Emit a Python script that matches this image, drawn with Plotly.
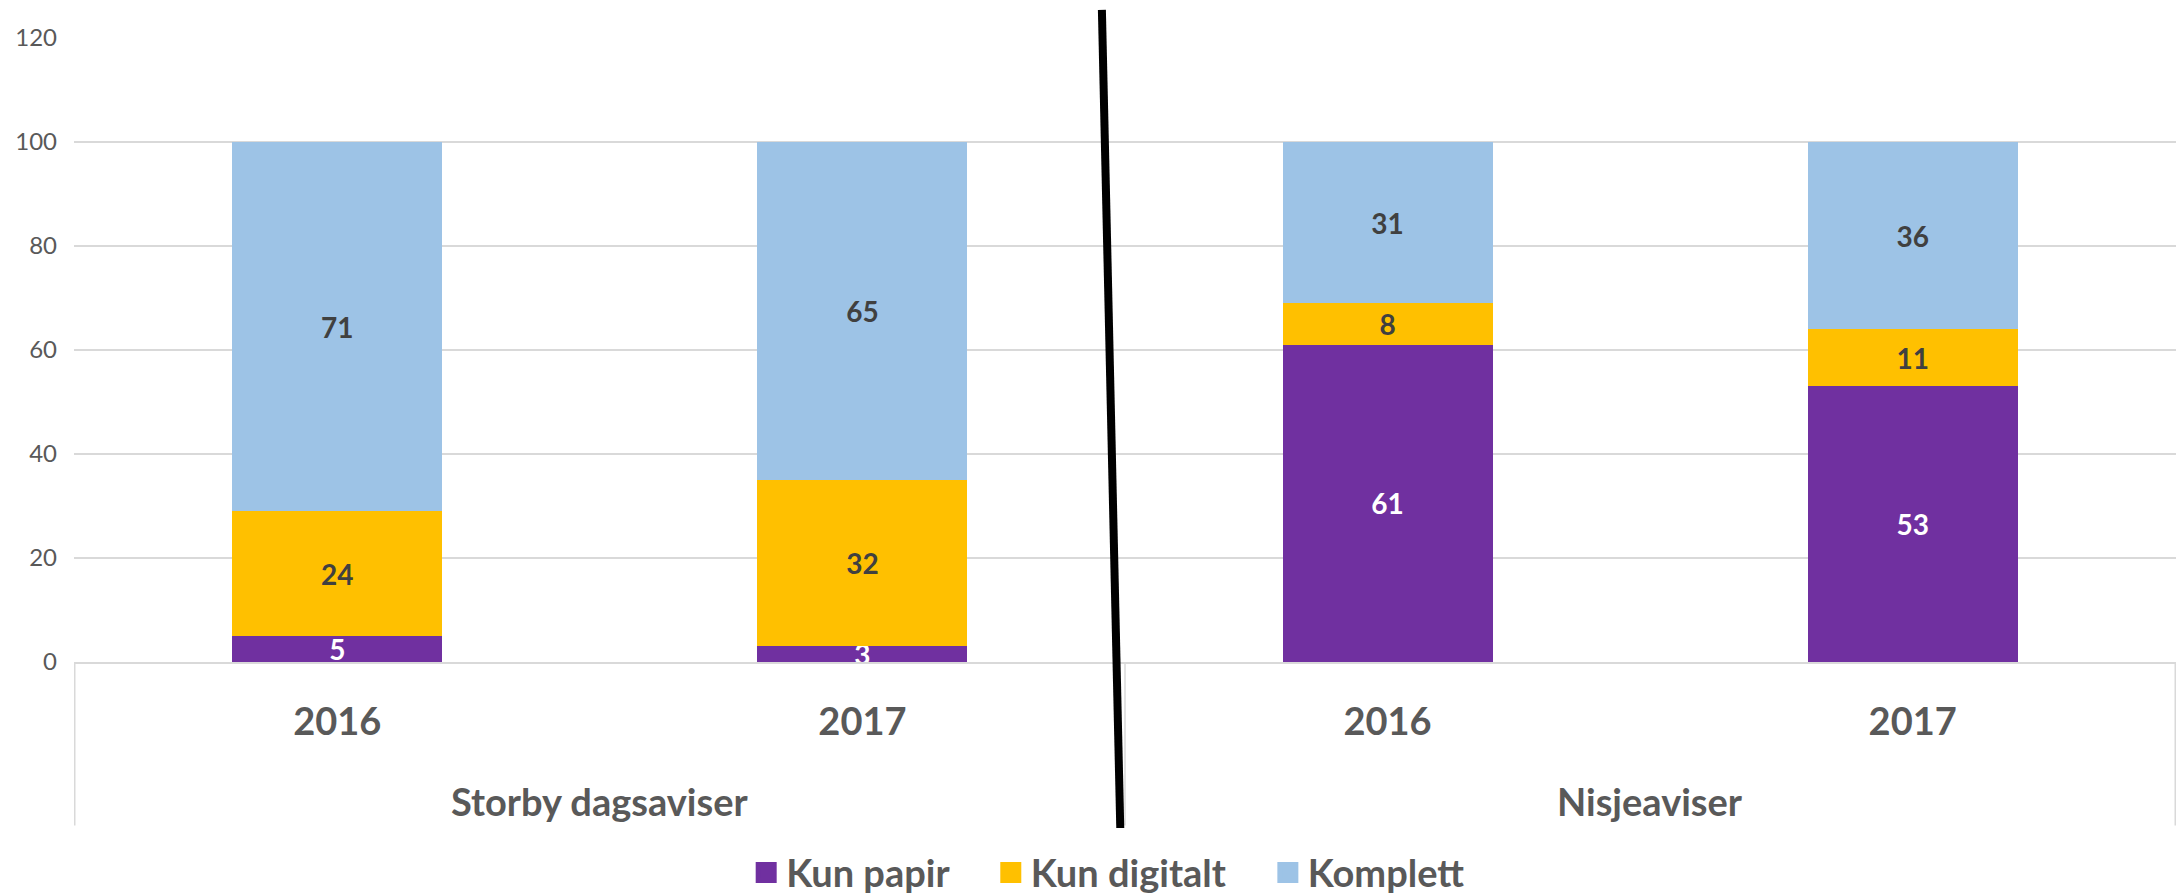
import plotly.graph_objects as go

groups = ["Storby dagsaviser", "Storby dagsaviser", "Nisjeaviser", "Nisjeaviser"]
years = ["2016", "2017", "2016", "2017"]
kun_papir = [5, 3, 61, 53]
kun_digitalt = [24, 32, 8, 11]
komplett = [71, 65, 31, 36]
y_ticks = [0, 20, 40, 60, 80, 100, 120]

FONT = "Lato"
GRAY = "#595959"
LINE = "#d9d9d9"
NBSP = "\u00a0"

cats = [f"{g} {y}" for g, y in zip(groups, years)]

series = [
    ("Kun papir", kun_papir, "#7030a0", "#ffffff"),
    ("Kun digitalt", kun_digitalt, "#ffc000", "#404040"),
    ("Komplett", komplett, "#9dc3e6", "#404040"),
]

fig = go.Figure()
for name, vals, color, tcolor in series:
    fig.add_trace(go.Bar(
        x=cats, y=vals, name=name, legendgroup=name, showlegend=False,
        marker=dict(color=color, line=dict(width=0)),
        text=[str(v) for v in vals], texttemplate="<b>%{text}</b>",
        textposition="inside", insidetextanchor="middle", textangle=0,
        textfont=dict(family=FONT, size=28, color=tcolor),
    ))
# legend entries with larger square swatches
for k, (name, vals, color, tcolor) in enumerate(series):
    pad = NBSP * 4 if k < len(series) - 1 else ""
    fig.add_trace(go.Scatter(
        x=[None], y=[None], name=name + pad, legendgroup=name, mode="markers",
        marker=dict(symbol="square", size=24, color=color, line=dict(width=5, color=color)),
        hoverinfo="skip",
    ))

fig.update_layout(
    barmode="stack", bargap=0.6,
    width=2178, height=894,
    margin=dict(l=74, r=2, t=38, b=232, autoexpand=False),
    plot_bgcolor="white", paper_bgcolor="white",
    font=dict(family=FONT, color=GRAY),
    uniformtext=dict(minsize=28, mode="show"),
    showlegend=True,
    legend=dict(orientation="h", x=0.492, xanchor="center", y=-0.338, yanchor="middle",
                traceorder="normal", itemsizing="trace",
                font=dict(family=FONT, size=38, color=GRAY, weight="bold"),
                itemwidth=30, tracegroupgap=0),
)
fig.update_yaxes(range=[0, 120], tickvals=y_ticks, showgrid=True, gridcolor=LINE, gridwidth=1.5,
                 zeroline=False, showline=False, tickfont=dict(family=FONT, size=24, color=GRAY),
                 ticklabelstandoff=16, automargin=False)
fig.update_xaxes(type="category", tickvals=cats, ticktext=years, showline=True, linecolor=LINE,
                 linewidth=1.5, ticks="", ticklabelstandoff=26, automargin=False,
                 tickfont=dict(family=FONT, size=38, color=GRAY, weight="bold"))

# group labels and dividers of the two-level category axis
group_names = list(dict.fromkeys(groups))
for gname in group_names:
    idx = [i for i, g in enumerate(groups) if g == gname]
    center = sum(idx) / len(idx)
    fig.add_annotation(x=center, xref="x", y=-0.223, yref="paper", text=f"<b>{gname}</b>",
                       showarrow=False, yanchor="middle",
                       font=dict(family=FONT, size=38, color=GRAY))
bounds = [-0.5] + [i + 0.5 for i in range(len(groups) - 1) if groups[i] != groups[i + 1]] + [len(groups) - 0.5]
for b in bounds:
    fig.add_shape(type="line", xref="x", yref="paper", x0=b, x1=b, y0=0, y1=-0.262,
                  line=dict(color=LINE, width=1.5), layer="below")

# decorative black separator line
fig.add_shape(type="line", xref="x", yref="paper", x0=1.456, y0=1.045, x1=1.491, y1=-0.266,
              line=dict(color="black", width=8))

fig.write_html("out.html", config={"displayModeBar": False},
               post_script="document.body.style.margin='0';document.body.style.overflow='hidden';")
